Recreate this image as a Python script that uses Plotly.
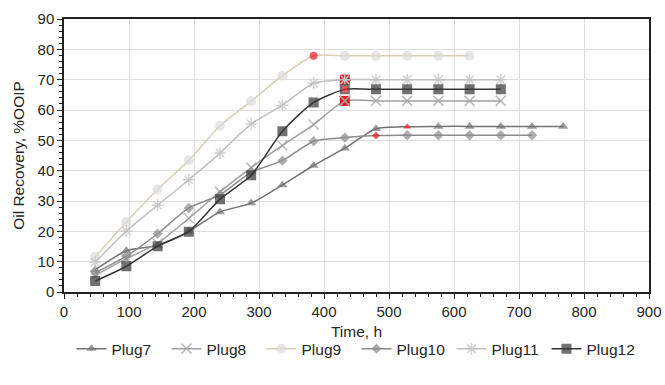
import plotly.graph_objects as go

time_h = [48, 96, 144, 192, 240, 288, 336, 384, 432, 480, 528, 576, 624, 672, 720, 768]

plug7 = [7.3, 13.6, 15.3, 20.0, 26.4, 29.3, 35.3, 41.7, 47.4, 53.8, 54.5, 54.6, 54.6, 54.6, 54.6, 54.6]
plug8 = [5.5, 11.0, 16.0, 24.3, 33.0, 41.0, 48.3, 55.2, 63.0, 63.0, 63.0, 63.0, 63.0, 63.0]
plug9 = [11.6, 23.1, 33.8, 43.4, 54.8, 62.9, 71.3, 77.9, 77.9, 77.9, 77.9, 77.9, 77.9]
plug10 = [6.3, 11.8, 19.2, 27.7, 32.0, 39.5, 43.3, 49.7, 50.9, 51.6, 51.7, 51.7, 51.7, 51.7, 51.7]
plug11 = [9.8, 20.1, 28.6, 37.0, 45.8, 55.4, 61.6, 68.8, 70.0, 70.0, 70.0, 70.0, 70.0, 70.0]
plug12 = [3.6, 8.5, 15.1, 19.9, 30.6, 38.5, 53.0, 62.5, 66.8, 66.8, 66.8, 66.8, 66.8, 66.8]

# breakthrough points (index in each series) highlighted in red
bt_index = {"Plug7": 10, "Plug8": 8, "Plug9": 7, "Plug10": 9, "Plug11": 8, "Plug12": 8}

series = [
    ("Plug7", plug7, "#737373", "#737373", "triangle-up", 9),
    ("Plug8", plug8, "#a0a0a0", "#a0a0a0", "x-thin-open", 10),
    ("Plug9", plug9, "#d8ceb4", "#dcdcdc", "circle", 10),
    ("Plug10", plug10, "#8c8c8c", "#8c8c8c", "diamond", 8),
    ("Plug11", plug11, "#c0c0c0", "#c0c0c0", "asterisk-open", 10),
    ("Plug12", plug12, "#363636", "#363636", "square", 8),
]

RED = "#f0141e"
fig = go.Figure()
for name, vals, lc, mc, sym, sz in series:
    n = len(vals)
    x = time_h[:n]
    colors = [mc] * n
    bi = bt_index[name]
    colors[bi] = RED
    open_sym = sym.endswith("open")
    sizes = [sz] * n
    if not open_sym and name != "Plug12":
        sizes[bi] = max(sz - 2, 5)
    marker = dict(symbol=sym, size=sizes, color=colors)
    if open_sym:
        marker["line"] = dict(color=colors, width=1.5)
    elif name == "Plug12":
        marker["line"] = dict(color=[mc] * n, width=2)
    else:
        marker["line"] = dict(width=0)
    fig.add_trace(go.Scatter(
        x=x, y=vals, name=name, mode="lines+markers",
        line=dict(color=lc, width=1.5, shape="spline", smoothing=0.6),
        marker=marker,
    ))
    if open_sym:
        fig.add_trace(go.Scatter(
            x=[x[bi]], y=[vals[bi]], mode="markers", showlegend=False,
            marker=dict(symbol="square", size=10, color=RED, line=dict(width=0)),
            hoverinfo="skip",
        ))
        fig.add_trace(go.Scatter(
            x=[x[bi]], y=[vals[bi]], mode="markers", showlegend=False,
            marker=dict(symbol=sym, size=sz, color=mc, line=dict(color="#d0d0d0", width=1.5)),
            hoverinfo="skip",
        ))

font = "Liberation Sans, Arial, sans-serif"
fig.update_layout(
    width=665, height=385,
    margin=dict(l=64, r=16, t=19, b=93, autoexpand=False),
    plot_bgcolor="white", paper_bgcolor="white",
    font=dict(family=font, size=15, color="#262626"),
    showlegend=True,
    legend=dict(orientation="h", x=0.5, xanchor="center", y=-0.209, yanchor="middle",
                font=dict(size=15.5), itemwidth=30, tracegroupgap=0,
                entrywidth=50, entrywidthmode="pixels"),
    xaxis=dict(
        range=[0, 900], dtick=100, tick0=0,
        showgrid=True, gridcolor="#dedede", gridwidth=1,
        showline=True, linecolor="#222", linewidth=1.5, mirror=True,
        ticks="outside", ticklen=5, tickcolor="#222",
        minor=dict(dtick=20, ticks="outside", ticklen=3, tickcolor="#222", showgrid=False),
        title=dict(text="Time, h", font=dict(size=15.5), standoff=7),
        zeroline=False,
    ),
    yaxis=dict(
        range=[0, 90], dtick=10, tick0=0,
        showgrid=True, gridcolor="#dedede", gridwidth=1,
        showline=True, linecolor="#222", linewidth=1.5, mirror=True,
        ticks="outside", ticklen=5, tickcolor="#222",
        minor=dict(dtick=2, ticks="outside", ticklen=3, tickcolor="#222", showgrid=False),
        title=dict(text="Oil Recovery, %OOIP", font=dict(size=15.5), standoff=9),
        zeroline=False,
    ),
)

fig.write_html(
    "out.html",
    config={"displayModeBar": False},
    post_script="document.body.style.margin='0';document.body.style.overflow='hidden';",
)
